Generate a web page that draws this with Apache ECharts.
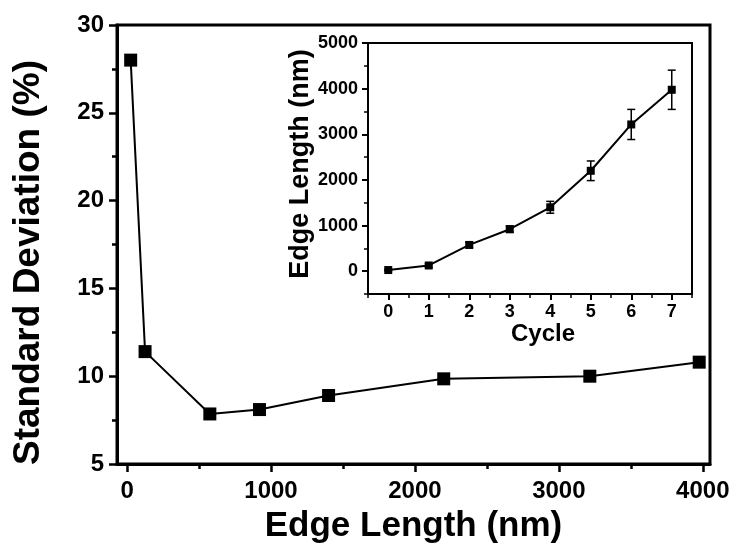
<!DOCTYPE html>
<html>
<head>
<meta charset="utf-8">
<script src="https://cdn.jsdelivr.net/npm/echarts@6/dist/echarts.min.js"></script>
<style>
  html, body { margin: 0; padding: 0; background: #fff; }
  #chart { width: 739px; height: 550px; }
</style>
</head>
<body>
<div id="chart"></div>
<script>
// Edge length (nm) reached after each growth cycle, with its spread
const cycles = [0, 1, 2, 3, 4, 5, 6, 7];
const edgeLength = [25, 125, 575, 920, 1400, 2200, 3215, 3975];
const edgeError = [15, 40, 60, 70, 130, 215, 330, 430];
// Standard deviation (%) of the edge length at each cycle
const stdDev = [28.0, 11.4, 7.85, 8.1, 8.9, 9.85, 10.0, 10.8];

// Tick positions
const mainXTicks = [0, 1000, 2000, 3000, 4000];
const mainXMinor = [500, 1500, 2500, 3500];
const mainYTicks = [5, 10, 15, 20, 25, 30];
const mainYMinor = [7.5, 12.5, 17.5, 22.5, 27.5];
const insetXTicks = [0, 1, 2, 3, 4, 5, 6, 7];
const insetXMinor = [-0.5, 0.5, 1.5, 2.5, 3.5, 4.5, 5.5, 6.5, 7.5];
const insetYTicks = [0, 1000, 2000, 3000, 4000, 5000];
const insetYMinor = [-500, 500, 1500, 2500, 3500, 4500];

const FONT = '"Liberation Sans", Arial, Helvetica, sans-serif';
const INK = '#000';
const plain = v => String(v);

function majorAxis(extra) {
  return Object.assign({
    type: 'value',
    splitLine: { show: false },
    axisLine: { show: true, onZero: false, lineStyle: { color: INK, width: 3 } },
    axisTick: { show: true, inside: false, length: 8, lineStyle: { color: INK, width: 2.5 } },
    axisLabel: { color: INK, fontFamily: FONT, fontWeight: 'bold', fontSize: 24 },
    nameTextStyle: { color: INK, fontFamily: FONT, fontWeight: 'bold', fontSize: 35 },
    nameLocation: 'middle'
  }, extra);
}

function minorAxis(extra) {
  return Object.assign({
    type: 'value',
    splitLine: { show: false },
    axisLine: { show: false, onZero: false },
    axisLabel: { show: false },
    axisTick: { show: true, inside: false, length: 5, lineStyle: { color: INK, width: 2 } }
  }, extra);
}

const chart = echarts.init(document.getElementById('chart'), null, { renderer: 'canvas' });

chart.setOption({
  animation: false,
  backgroundColor: '#fff',
  grid: [
    { left: 117, top: 25, width: 593, height: 439, show: true, borderColor: INK, borderWidth: 3, backgroundColor: '#fff' },
    { left: 368, top: 43, width: 324, height: 251, show: true, borderColor: INK, borderWidth: 2, backgroundColor: '#fff' }
  ],
  xAxis: [
    majorAxis({
      gridIndex: 0, position: 'bottom', min: -70, max: 4050,
      name: 'Edge Length (nm)', nameGap: 45,
      axisTick: { show: true, customValues: mainXTicks, length: 8, lineStyle: { color: INK, width: 2.5 } },
      axisLabel: { customValues: mainXTicks, formatter: plain, margin: 15, color: INK, fontFamily: FONT, fontWeight: 'bold', fontSize: 24 }
    }),
    minorAxis({
      gridIndex: 0, position: 'bottom', min: -70, max: 4050,
      axisTick: { show: true, customValues: mainXMinor, length: 5, lineStyle: { color: INK, width: 2.5 } }
    }),
    majorAxis({
      gridIndex: 1, position: 'bottom', min: -0.5, max: 7.5,
      name: 'Cycle', nameGap: 28,
      nameTextStyle: { color: INK, fontFamily: FONT, fontWeight: 'bold', fontSize: 24, padding: [0, 0, 0, 26] },
      axisLine: { show: true, onZero: false, lineStyle: { color: INK, width: 2 } },
      axisTick: { show: true, customValues: insetXTicks, length: 6, lineStyle: { color: INK, width: 2 } },
      axisLabel: { customValues: insetXTicks, formatter: plain, margin: 9, color: INK, fontFamily: FONT, fontWeight: 'bold', fontSize: 18 }
    }),
    minorAxis({
      gridIndex: 1, position: 'bottom', min: -0.5, max: 7.5,
      axisTick: { show: true, customValues: insetXMinor, length: 4, lineStyle: { color: INK, width: 1.5 } }
    })
  ],
  yAxis: [
    majorAxis({
      gridIndex: 0, position: 'left', min: 5, max: 30,
      name: 'Standard Deviation (%)', nameGap: 70,
      nameTextStyle: { color: INK, fontFamily: FONT, fontWeight: 'bold', fontSize: 37, padding: [0, 36, 0, 0] },
      axisTick: { show: true, customValues: mainYTicks, length: 8, lineStyle: { color: INK, width: 2.5 } },
      axisLabel: { customValues: mainYTicks, formatter: plain, margin: 13, color: INK, fontFamily: FONT, fontWeight: 'bold', fontSize: 24 }
    }),
    minorAxis({
      gridIndex: 0, position: 'left', min: 5, max: 30,
      axisTick: { show: true, customValues: mainYMinor, length: 5, lineStyle: { color: INK, width: 2.5 } }
    }),
    majorAxis({
      gridIndex: 1, position: 'left', min: -500, max: 5000,
      name: 'Edge Length (nm)', nameGap: 54,
      nameTextStyle: { color: INK, fontFamily: FONT, fontWeight: 'bold', fontSize: 27, padding: [0, 0, 0, 9] },
      axisLine: { show: true, onZero: false, lineStyle: { color: INK, width: 2 } },
      axisTick: { show: true, customValues: insetYTicks, length: 6, lineStyle: { color: INK, width: 2 } },
      axisLabel: { customValues: insetYTicks, formatter: plain, margin: 10, color: INK, fontFamily: FONT, fontWeight: 'bold', fontSize: 18 }
    }),
    minorAxis({
      gridIndex: 1, position: 'left', min: -500, max: 5000,
      axisTick: { show: true, customValues: insetYMinor, length: 4, lineStyle: { color: INK, width: 1.5 } }
    })
  ],
  series: [
    {
      type: 'line',
      xAxisIndex: 0, yAxisIndex: 0,
      data: edgeLength.map((x, i) => [x, stdDev[i]]),
      symbol: 'rect', symbolSize: 13,
      lineStyle: { color: INK, width: 2 },
      itemStyle: { color: INK },
      z: 5
    },
    {
      type: 'custom',
      xAxisIndex: 2, yAxisIndex: 2,
      data: cycles.map((c, i) => [c, edgeLength[i] - edgeError[i], edgeLength[i] + edgeError[i]]),
      renderItem: function (params, api) {
        const lo = api.coord([api.value(0), api.value(1)]);
        const hi = api.coord([api.value(0), api.value(2)]);
        const w = 4;
        const style = { stroke: INK, lineWidth: 1.5 };
        return {
          type: 'group',
          children: [
            { type: 'line', shape: { x1: lo[0], y1: lo[1], x2: hi[0], y2: hi[1] }, style: style },
            { type: 'line', shape: { x1: lo[0] - w, y1: lo[1], x2: lo[0] + w, y2: lo[1] }, style: style },
            { type: 'line', shape: { x1: hi[0] - w, y1: hi[1], x2: hi[0] + w, y2: hi[1] }, style: style }
          ]
        };
      },
      z: 4
    },
    {
      type: 'line',
      xAxisIndex: 2, yAxisIndex: 2,
      data: cycles.map((c, i) => [c, edgeLength[i]]),
      symbol: 'rect', symbolSize: 8,
      lineStyle: { color: INK, width: 2 },
      itemStyle: { color: INK },
      z: 5
    }
  ]
});
</script>
</body>
</html>
